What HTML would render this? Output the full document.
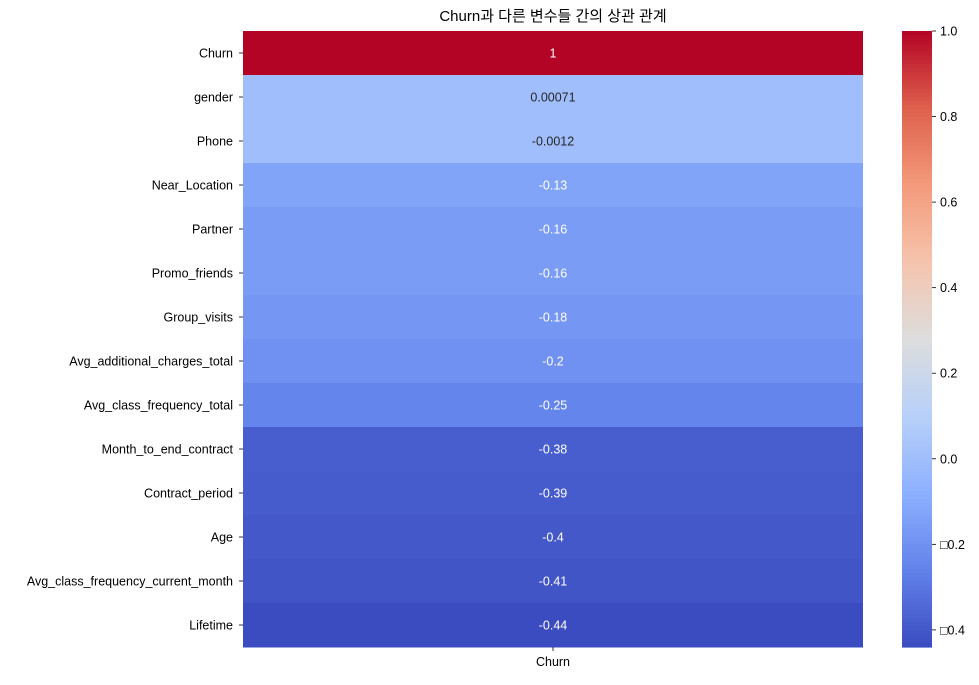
<!DOCTYPE html>
<html><head><meta charset="utf-8"><style>
html,body{margin:0;padding:0;background:#fff;}
svg text{font-family:"Liberation Sans","Noto Sans CJK KR",sans-serif;}
</style></head><body>
<svg id="chart" width="979" height="680" xmlns="http://www.w3.org/2000/svg">
<text x="553" y="21" font-size="15" text-anchor="middle" fill="#000">Churn과 다른 변수들 간의 상관 관계</text>
<g id="cells"></g><g id="ylabels"></g><g id="cbar"></g>
</svg>
<script>
const categories=["Churn","gender","Phone","Near_Location","Partner","Promo_friends","Group_visits","Avg_additional_charges_total","Avg_class_frequency_total","Month_to_end_contract","Contract_period","Age","Avg_class_frequency_current_month","Lifetime"];
const values=[1,0.00071,-0.0012,-0.13,-0.16,-0.16,-0.18,-0.2,-0.25,-0.38,-0.39,-0.4,-0.41,-0.44];
const valueLabels=["1","0.00071","-0.0012","-0.13","-0.16","-0.16","-0.18","-0.2","-0.25","-0.38","-0.39","-0.4","-0.41","-0.44"];
const cbTicks=[1.0,0.8,0.6,0.4,0.2,0.0,-0.2,-0.4];
const cbTickLabels=["1.0","0.8","0.6","0.4","0.2","0.0","\u25A10.2","\u25A10.4"];
const xLabel="Churn";
const NS="http://www.w3.org/2000/svg";
const X0=243,X1=863,Y0=31,Y1=647,CBX=902,CBW=30;
const vmin=Math.min(...values),vmax=Math.max(...values);
const stops=[[59,76,192],[98,130,234],[141,176,254],[184,208,249],[221,221,221],[245,196,173],[244,154,123],[222,96,77],[180,4,38]];
function cmap(v){let t=(v-vmin)/(vmax-vmin);t=Math.max(0,Math.min(1,t));const p=t*8,i=Math.min(7,Math.floor(p)),f=p-i;const a=stops[i],b=stops[i+1];const c=a.map((x,k)=>Math.round(x+(b[k]-x)*f));return {rgb:`rgb(${c[0]},${c[1]},${c[2]})`,lum:(0.299*c[0]+0.587*c[1]+0.114*c[2])};}
const rowH=(Y1-Y0)/categories.length;
function yRow(i){return Y0+i*rowH;}
function yCb(v){return Y0+(vmax-v)/(vmax-vmin)*(Y1-Y0);}
function mk(tag,attrs,parent){const e=document.createElementNS(NS,tag);for(const k in attrs)e.setAttribute(k,attrs[k]);parent.appendChild(e);return e;}
const cells=document.getElementById('cells'),yl=document.getElementById('ylabels'),cb=document.getElementById('cbar');
categories.forEach((c,i)=>{
 const col=cmap(values[i]);
 const r=mk('rect',{x:X0,y:yRow(i),width:X1-X0,height:rowH+0.5,fill:col.rgb},cells);
 
 
 const t=mk('text',{x:(X0+X1)/2,y:yRow(i)+rowH/2+4.5,'font-size':12.5,'text-anchor':'middle',fill:col.lum>178?'#262626':'#fff'},cells);
 t.textContent=valueLabels[i];
 
 
 const tk=mk('line',{x1:X0-4,x2:X0,y1:yRow(i)+rowH/2,y2:yRow(i)+rowH/2,stroke:'#000','stroke-width':0.8},yl);
 
 
 const l=mk('text',{x:X0-10,y:yRow(i)+rowH/2+4.5,'font-size':12.5,'text-anchor':'end',fill:'#000'},yl);
 l.textContent=c;
 
 
});
const xt=mk('line',{x1:(X0+X1)/2,x2:(X0+X1)/2,y1:Y1,y2:Y1+4,stroke:'#000','stroke-width':0.8},yl);


const xl=mk('text',{x:(X0+X1)/2,y:Y1+19,'font-size':12.5,'text-anchor':'middle',fill:'#000'},yl);
xl.textContent=xLabel;


const N=150;
for(let k=0;k<N;k++){const v=vmax-(vmax-vmin)*(k+0.5)/N;const r=mk('rect',{x:CBX,y:Y0+(Y1-Y0)*k/N,width:CBW,height:(Y1-Y0)/N+0.6,fill:cmap(v).rgb},cb);
 
 }
cbTicks.forEach((v,i)=>{const y=yCb(v);
 const t=mk('line',{x1:CBX+CBW,x2:CBX+CBW+4,y1:y,y2:y,stroke:'#000','stroke-width':0.8},cb);
 
 
 const l=mk('text',{x:CBX+CBW+8,y:y+4.5,'font-size':12.5,fill:'#000'},cb);
 l.textContent=cbTickLabels[i];
 
 });
</script>
</body></html>
